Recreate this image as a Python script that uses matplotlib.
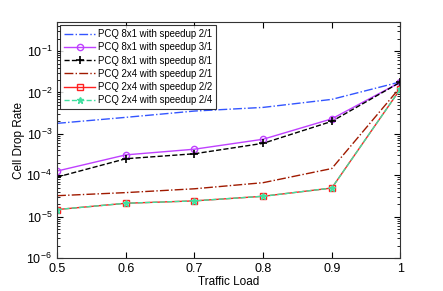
import matplotlib
matplotlib.use("Agg")
import matplotlib.pyplot as plt
from matplotlib.ticker import LogLocator, NullFormatter

plt.rcParams['font.family'] = ['Liberation Sans', 'DejaVu Sans']

load = [0.5, 0.6, 0.7, 0.8, 0.9, 1.0]
pcq8_s21 = [1.79e-3, 2.5e-3, 3.55e-3, 4.35e-3, 6.8e-3, 1.8e-2]
pcq8_s31 = [1.26e-4, 3.1e-4, 4.25e-4, 7.4e-4, 2.3e-3, 1.77e-2]
pcq8_s81 = [9.0e-5, 2.5e-4, 3.3e-4, 5.9e-4, 2.0e-3, 1.77e-2]
pcq2_s21 = [3.2e-5, 3.8e-5, 4.7e-5, 6.6e-5, 1.45e-4, 1.35e-2]
pcq2_s22 = [1.48e-5, 2.1e-5, 2.4e-5, 3.1e-5, 4.9e-5, 1.22e-2]
pcq2_s24 = [1.48e-5, 2.1e-5, 2.4e-5, 3.1e-5, 4.9e-5, 1.22e-2]
labels = ["PCQ 8x1 with speedup 2/1", "PCQ 8x1 with speedup 3/1",
          "PCQ 8x1 with speedup 8/1", "PCQ 2x4 with speedup 2/1",
          "PCQ 2x4 with speedup 2/2", "PCQ 2x4 with speedup 2/4"]
xticks = [0.5, 0.6, 0.7, 0.8, 0.9, 1]

fig = plt.figure(figsize=(4.43, 2.91), dpi=100)
ax = fig.add_axes([0.1287, 0.1134, 0.7753, 0.8106])

ax.plot(load, pcq8_s21, color='#3355ff', ls='-.', lw=1.0, label=labels[0])
ax.plot(load, pcq8_s31, color='#bf40ff', ls='-', lw=1.0, marker='o', ms=4.5,
        mfc='none', mec='#bf40ff', label=labels[1])
ax.plot(load, pcq8_s81, color='black', ls='--', lw=1.0, marker='+', ms=6,
        mew=1.2, label=labels[2])
ax.plot(load, pcq2_s21, color='#a01a00', ls='-.', lw=1.0, label=labels[3])
ax.plot(load, pcq2_s22, color='#ff2020', ls='-', lw=1.0, marker='s', ms=4.5,
        mfc='none', mec='#ff2020', label=labels[4])
ax.plot(load, pcq2_s24, color='#40e0a0', ls='--', lw=1.0, marker='*', ms=5,
        mfc='#40e0a0', mec='#40e0a0', label=labels[5])

ax.set_yscale('log')
ax.set_xlim(0.5, 1.0)
ax.set_ylim(1e-6, 0.5)
ax.set_xticks(xticks)
ax.set_xticklabels(['0.5', '0.6', '0.7', '0.8', '0.9', '1'])
ax.yaxis.set_major_locator(LogLocator(base=10, numticks=10))
ax.yaxis.set_minor_locator(LogLocator(base=10, subs=range(2, 10), numticks=20))
ax.yaxis.set_minor_formatter(NullFormatter())
ax.tick_params(which='both', direction='in', top=True, right=True, labelsize=9)
ax.tick_params(which='major', length=4)
ax.tick_params(which='minor', length=2)
for s in ax.spines.values():
    s.set_color('#333333')
ax.set_xlabel('Traffic Load', fontsize=8.5, labelpad=1)
ax.set_ylabel('Cell Drop Rate', fontsize=8.5, labelpad=1)

leg = ax.legend(loc='upper left', fontsize=6.9, frameon=True, fancybox=False,
                edgecolor='black', handlelength=3.2, borderpad=0.45,
                labelspacing=0.33, handletextpad=0.3, borderaxespad=0.3)
leg.get_frame().set_linewidth(0.8)

fig.savefig('out.png', dpi=100)
